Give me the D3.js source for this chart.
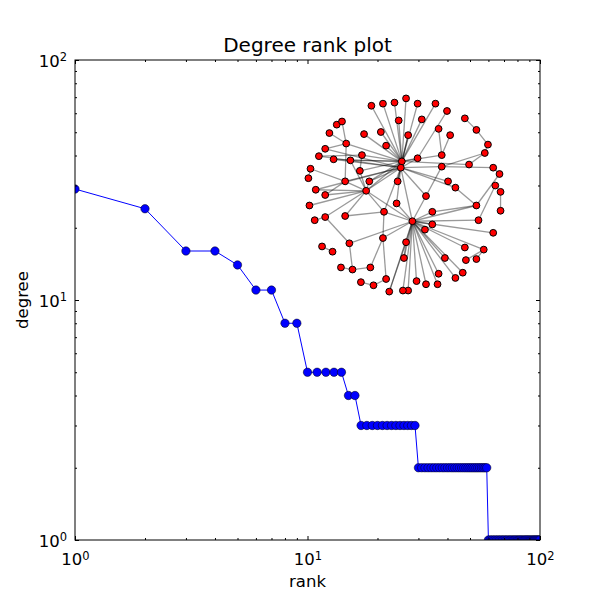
<!DOCTYPE html>
<html>
<head>
<meta charset="utf-8">
<script src="https://cdn.jsdelivr.net/npm/d3@7"></script>
<style>
  body { margin: 0; background: #fff; }
  text { font-family: "DejaVu Sans", sans-serif; }
</style>
</head>
<body>
<div id="chart"></div>
<script>
  // degree sequence, sorted high to low (rank = position + 1)
  var degrees = [29, 24, 16, 16, 14, 11, 11, 8, 8,
    5, 5, 5, 5, 5, 4, 4,
    3, 3, 3, 3, 3, 3, 3, 3, 3, 3, 3, 3, 3,
    2, 2, 2, 2, 2, 2, 2, 2, 2, 2, 2, 2, 2, 2, 2, 2, 2, 2, 2, 2, 2, 2, 2, 2, 2, 2, 2, 2, 2, 2,
    1, 1, 1, 1, 1, 1, 1, 1, 1, 1, 1, 1, 1, 1, 1, 1, 1, 1, 1, 1, 1, 1, 1, 1, 1, 1, 1, 1, 1, 1,
    1, 1, 1, 1, 1, 1, 1, 1, 1, 1, 1];

  var majorTicks = [1, 10, 100];
  var minorTicks = [2, 3, 4, 5, 6, 7, 8, 9, 20, 30, 40, 50, 60, 70, 80, 90];

  // spring layout of the graph (layout units)
  var nodeX = [-0.03, -0.04, 0.07, -0.37, -0.32, -0.21, -0.10, 0.01, 0.12, 0.29,
    0.40, 0.57, 0.68, 0.79, 0.76, 0.84, 0.90, 0.86, 0.91, 0.91,
    0.68, 0.70, 0.84, 0.75, 0.68, 0.58, 0.57, 0.55, 0.48, 0.38,
    0.32, 0.31, 0.20, 0.11, 0.03, -0.02, -0.15, -0.18, -0.30, -0.42,
    -0.50, -0.61, -0.33, -0.01, 0.01, -0.21, -0.53, -0.79, -0.69, -0.86,
    -0.76, -0.57, -0.20, -0.08, -0.91, 0.20, 0.19, 0.26, 0.26, -0.85,
    -0.76, -0.07, -0.34, -0.57, -0.92, -0.90, -0.43, 0.12, 0.35, 0.35,
    0.61, 0.41, 0.48, -0.52, -0.68, -0.41, -0.82, -0.76, -0.56, -0.18,
    -0.39, -0.23, -0.72, -0.65, -0.60, -0.06, 0.03, 0.16, 0.32, 0.43];
  var nodeY = [0.32, 0.26, -0.25, 0.04, 0.85, 0.87, 0.88, 0.92, 0.87, 0.87,
    0.80, 0.73, 0.62, 0.48, 0.40, 0.26, 0.20, 0.09, 0.03, -0.15,
    -0.10, -0.24, -0.36, -0.52, -0.61, -0.62, -0.50, -0.74, -0.79, -0.60,
    -0.75, -0.85, -0.85, -0.82, -0.91, -0.91, -0.92, -0.80, -0.86, -0.83,
    -0.71, -0.69, -0.69, -0.60, -0.45, -0.41, -0.46, -0.49, -0.54, -0.24,
    -0.21, -0.20, -0.16, -0.08, -0.10, -0.01, -0.33, -0.28, -0.16, 0.05,
    0.00, 0.13, 0.13, 0.13, 0.16, 0.25, 0.23, 0.35, 0.27, 0.38,
    0.29, 0.13, 0.07, 0.33, 0.34, 0.38, 0.37, 0.44, 0.49, 0.47,
    0.58, 0.60, 0.59, 0.67, 0.70, 0.71, 0.57, 0.72, 0.63, 0.57];

  var edges = [
    [0,4],[0,5],[0,6],[0,7],[0,8],[0,9],[0,85],[0,86],[0,87],[0,79],[0,80],[0,81],
    [0,75],[0,73],[0,74],[0,78],[0,66],[0,62],[0,61],[0,67],[0,69],[0,70],[0,1],[0,3],
    [1,2],[1,3],[1,63],[1,61],[1,68],[1,71],[1,72],[1,55],[1,53],[1,77],[1,76],[1,74],[1,52],[1,62],
    [2,3],[2,20],[2,21],[2,22],[2,23],[2,26],[2,27],[2,28],[2,29],[2,30],[2,31],[2,32],[2,33],
    [2,34],[2,35],[2,36],[2,43],[2,44],[2,56],[2,57],[2,58],[2,55],[2,46],[2,45],[2,52],[2,53],
    [3,59],[3,60],[3,54],[3,50],[3,63],[3,66],[3,62],[3,52],[3,51],[3,73],
    [10,67],[11,12],[12,13],[13,14],[14,68],[15,68],[15,16],[17,21],[18,19],[20,58],
    [23,25],[24,23],[88,69],[89,69],[82,78],[84,78],[83,84],[78,63],[77,78],[76,75],
    [75,66],[65,64],[65,63],[49,50],[46,50],[46,40],[40,41],[40,42],[42,45],[45,52],
    [51,52],[37,45],[37,38],[38,39],[47,48],
    [20,16],[72,20],[55,68],[60,63],[59,1],[70,14],[44,43],[36,44],[86,1],[67,1]
  ];

  var margin = { top: 60, left: 75, right: 60, bottom: 60 },
  width = 600 - margin.left - margin.right,
  height = 600 - margin.top - margin.bottom;

  var svg = d3.select("#chart")
    .append("svg")
    .attr("width", 600)
    .attr("height", 600);

  var g = svg.append("g")
    .attr("transform", "translate(" + margin.left + "," + margin.top + ")");

  var x = d3.scaleLog().domain([1, 100]).range([0, width]);
  var y = d3.scaleLog().domain([1, 100]).range([height, 0]);

  g.append("clipPath").attr("id", "clip")
    .append("rect").attr("width", width).attr("height", height);

  var points = degrees.map(function (d, i) { return { rank: i + 1, deg: d }; });

  var plot = g.append("g").attr("clip-path", "url(#clip)");

  plot.append("path")
    .datum(points)
    .attr("fill", "none")
    .attr("stroke", "#0000ff")
    .attr("stroke-width", 1)
    .attr("d", d3.line().x(function (d) { return x(d.rank); }).y(function (d) { return y(d.deg); }));

  plot.selectAll(".dot")
    .data(points)
    .enter().append("circle")
    .attr("class", "dot")
    .attr("cx", function (d) { return x(d.rank); })
    .attr("cy", function (d) { return y(d.deg); })
    .attr("r", 4.2)
    .attr("fill", "#0000ff")
    .attr("stroke", "#000")
    .attr("stroke-width", 0.5);

  /*
    axes: inward ticks on all four sides, labels only bottom / left
  */
  function sup(sel) {
    sel.selectAll(".tick text").each(function (d) {
      var t = d3.select(this);
      t.text("10");
      t.append("tspan").attr("dy", "-0.5em").attr("font-size", "11.5px")
        .text(Math.round(Math.log10(d)));
    });
  }

  function axisStyle(sel) {
    sel.select(".domain").remove();
    sel.selectAll(".tick line").attr("stroke", "#000");
    sel.selectAll(".tick text").attr("fill", "#000")
      .style("font-family", "'DejaVu Sans', sans-serif").attr("font-size", "16.5px");
  }

  var xb = g.append("g").attr("transform", "translate(0," + height + ")")
    .call(d3.axisBottom(x).tickValues(majorTicks).tickSize(-4).tickPadding(8).tickFormat(function () { return ""; }));
  axisStyle(xb);
  xb.selectAll(".tick text").attr("dy", "1.05em");
  sup(xb);
  g.append("g").attr("transform", "translate(0," + height + ")")
    .call(d3.axisBottom(x).tickValues(minorTicks).tickSize(-2).tickFormat(function () { return ""; }))
    .call(axisStyle);

  var xt = g.append("g")
    .call(d3.axisTop(x).tickValues(majorTicks).tickSize(-4).tickFormat(function () { return ""; }));
  axisStyle(xt);
  g.append("g")
    .call(d3.axisTop(x).tickValues(minorTicks).tickSize(-2).tickFormat(function () { return ""; }))
    .call(axisStyle);

  var yl = g.append("g")
    .call(d3.axisLeft(y).tickValues(majorTicks).tickSize(-4).tickPadding(8).tickFormat(function () { return ""; }));
  axisStyle(yl);
  yl.selectAll(".tick text").attr("dy", "0.4em");
  sup(yl);
  g.append("g")
    .call(d3.axisLeft(y).tickValues(minorTicks).tickSize(-2).tickFormat(function () { return ""; }))
    .call(axisStyle);

  g.append("g").attr("transform", "translate(" + width + ",0)")
    .call(d3.axisRight(y).tickValues(majorTicks).tickSize(-4).tickFormat(function () { return ""; }))
    .call(axisStyle);
  g.append("g").attr("transform", "translate(" + width + ",0)")
    .call(d3.axisRight(y).tickValues(minorTicks).tickSize(-2).tickFormat(function () { return ""; }))
    .call(axisStyle);

  g.append("rect")
    .attr("width", width).attr("height", height)
    .attr("fill", "none").attr("stroke", "#000").attr("stroke-width", 1);

  // title and labels
  g.append("text")
    .attr("x", width / 2).attr("y", -8)
    .attr("text-anchor", "middle")
    .attr("font-size", "20px")
    .text("Degree rank plot");

  g.append("text")
    .attr("x", width / 2).attr("y", height + 47)
    .attr("text-anchor", "middle")
    .attr("font-size", "16.5px")
    .text("rank");

  g.append("text")
    .attr("transform", "translate(" + (-47) + "," + (height / 2) + ") rotate(-90)")
    .attr("text-anchor", "middle")
    .attr("font-size", "16.5px")
    .text("degree");

  /*
    inset: the graph drawn from its layout
  */
  var gx = d3.scaleLinear().domain([-1, 1]).range([300, 510]);
  var gy = d3.scaleLinear().domain([-1, 1]).range([300, 90]);

  var inset = svg.append("g");

  inset.selectAll(".edge")
    .data(edges)
    .enter().append("line")
    .attr("class", "edge")
    .attr("x1", function (d) { return gx(nodeX[d[0]]); })
    .attr("y1", function (d) { return gy(nodeY[d[0]]); })
    .attr("x2", function (d) { return gx(nodeX[d[1]]); })
    .attr("y2", function (d) { return gy(nodeY[d[1]]); })
    .attr("stroke", "#000")
    .attr("stroke-opacity", 0.4)
    .attr("stroke-width", 1.3);

  inset.selectAll(".node")
    .data(nodeX)
    .enter().append("circle")
    .attr("class", "node")
    .attr("cx", function (d) { return gx(d); })
    .attr("cy", function (d, i) { return gy(nodeY[i]); })
    .attr("r", 3.4)
    .attr("fill", "#ff0000")
    .attr("stroke", "#000")
    .attr("stroke-width", 1);
</script>
</body>
</html>
